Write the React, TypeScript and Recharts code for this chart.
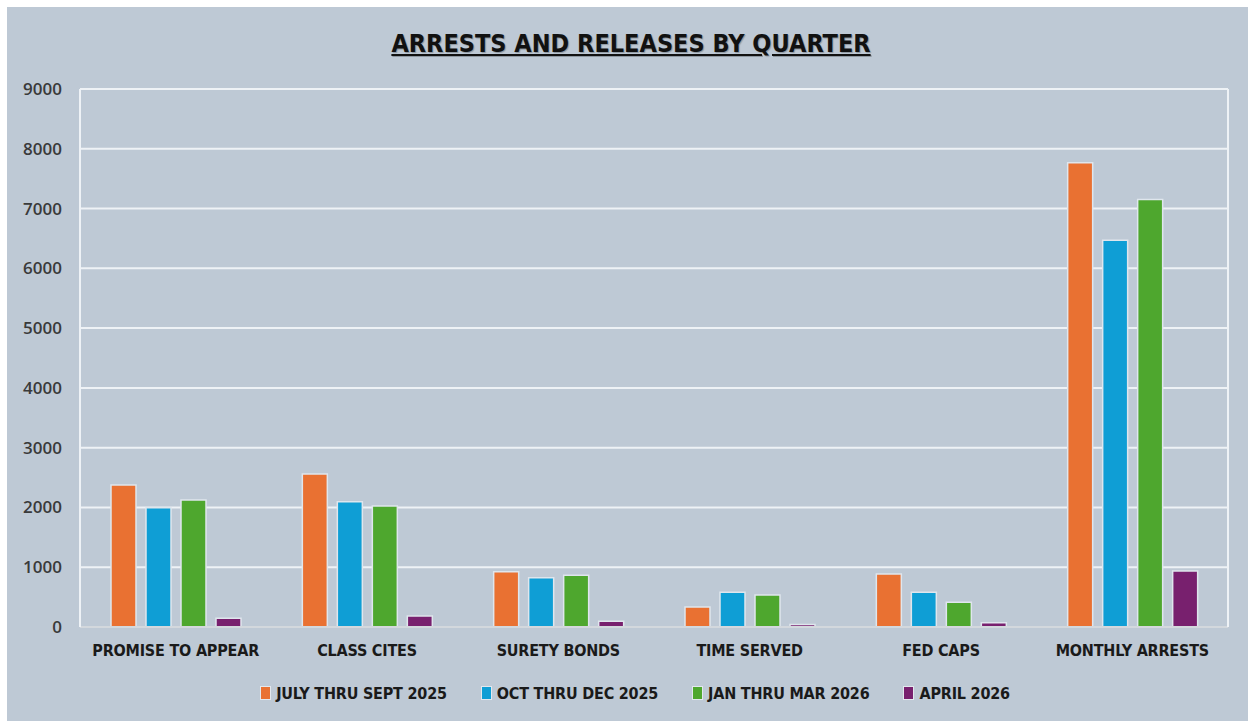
import React from "react";
import {
  BarChart,
  Bar,
  XAxis,
  YAxis,
  CartesianGrid,
  Legend,
} from "recharts";

const categories = [
  "PROMISE TO APPEAR",
  "CLASS CITES",
  "SURETY BONDS",
  "TIME SERVED",
  "FED CAPS",
  "MONTHLY ARRESTS",
];

const julySept = [2375, 2560, 925, 335, 885, 7765];
const octDec = [1995, 2095, 825, 580, 580, 6470];
const janMar = [2125, 2025, 865, 535, 415, 7150];
const april = [145, 185, 95, 40, 70, 935];

const yTicks = [0, 1000, 2000, 3000, 4000, 5000, 6000, 7000, 8000, 9000];

const series = [
  { key: "julySept", name: "JULY THRU SEPT 2025", color: "#E97132", values: julySept },
  { key: "octDec", name: "OCT THRU DEC 2025", color: "#0F9ED5", values: octDec },
  { key: "janMar", name: "JAN THRU MAR 2026", color: "#4EA72E", values: janMar },
  { key: "april", name: "APRIL 2026", color: "#78206E", values: april },
];

const data = categories.map((name, i) => {
  const row: Record<string, string | number> = { name };
  series.forEach((s) => {
    row[s.key] = s.values[i];
  });
  return row;
});

const narrow = '"Liberation Sans Narrow", "DejaVu Sans Condensed", "Roboto", sans-serif';
const bg = "#bec9d5";
const gridWhite = "#eef2f6";

function LegendContent() {
  return (
    <div
      style={{
        display: "flex",
        justifyContent: "center",
        height: 24,
        alignItems: "center",
        paddingLeft: 34,
        fontFamily: narrow,
        fontWeight: 700,
        fontSize: 16,
        letterSpacing: -0.2,
        color: "#1a1a1a",
      }}
    >
      {series.map((s, i) => (
        <div
          key={s.key}
          style={{ display: "flex", alignItems: "center", marginLeft: i === 0 ? 0 : 34 }}
        >
          <span
            style={{
              display: "inline-block",
              width: 9,
              height: 12,
              background: s.color,
              border: "1px solid #e3e8ee",
              marginRight: 5,
            }}
          />
          <span>{s.name}</span>
        </div>
      ))}
    </div>
  );
}

export default function App() {
  return (
    <div
      style={{
        position: "fixed",
        left: 7,
        top: 7,
        width: 1241,
        height: 714,
        background: bg,
      }}
    >
      <div
        style={{
          position: "absolute",
          left: 0,
          width: 1248,
          top: 22,
          textAlign: "center",
          fontFamily: narrow,
          fontWeight: 700,
          fontSize: 25,
          color: "#111",
          textDecoration: "underline",
          textShadow: "1px 1px 1px rgba(0,0,0,0.25)",
        }}
      >
        ARRESTS AND RELEASES BY QUARTER
      </div>
      <BarChart
        width={1241}
        height={714}
        data={data}
        margin={{ top: 82, right: 19, left: 0, bottom: 30 }}
        barSize={25}
        barGap={10}
      >
        <CartesianGrid vertical={false} stroke={gridWhite} strokeWidth={2} />
        <XAxis
          dataKey="name"
          height={40}
          tickLine={false}
          tickSize={0}
          tickMargin={18}
          axisLine={{ stroke: "#d3d8dd", strokeWidth: 2 }}
          tick={{ fill: "#1a1a1a", fontSize: 16, fontWeight: 700, fontFamily: narrow, letterSpacing: -0.2 }}
          interval={0}
        />
        <YAxis
          width={73}
          domain={[0, 9000]}
          ticks={yTicks}
          tickLine={false}
          tickSize={0}
          tickMargin={18}
          axisLine={{ stroke: gridWhite, strokeWidth: 2 }}
          tick={{ fill: "#3a3a3a", fontSize: 17, fontWeight: 600, fontFamily: '"Open Sans", sans-serif' }}
        />
        <YAxis
          yAxisId="right"
          orientation="right"
          width={1}
          domain={[0, 9000]}
          tick={false}
          tickLine={false}
          axisLine={{ stroke: gridWhite, strokeWidth: 2 }}
        />
        <Legend
          verticalAlign="bottom"
          content={<LegendContent />}
          wrapperStyle={{ bottom: 16 }}
        />
        {series.map((s) => (
          <Bar
            key={s.key}
            dataKey={s.key}
            name={s.name}
            fill={s.color}
            stroke="#dfe6ed"
            strokeWidth={1.5}
            isAnimationActive={false}
          />
        ))}
      </BarChart>
    </div>
  );
}
